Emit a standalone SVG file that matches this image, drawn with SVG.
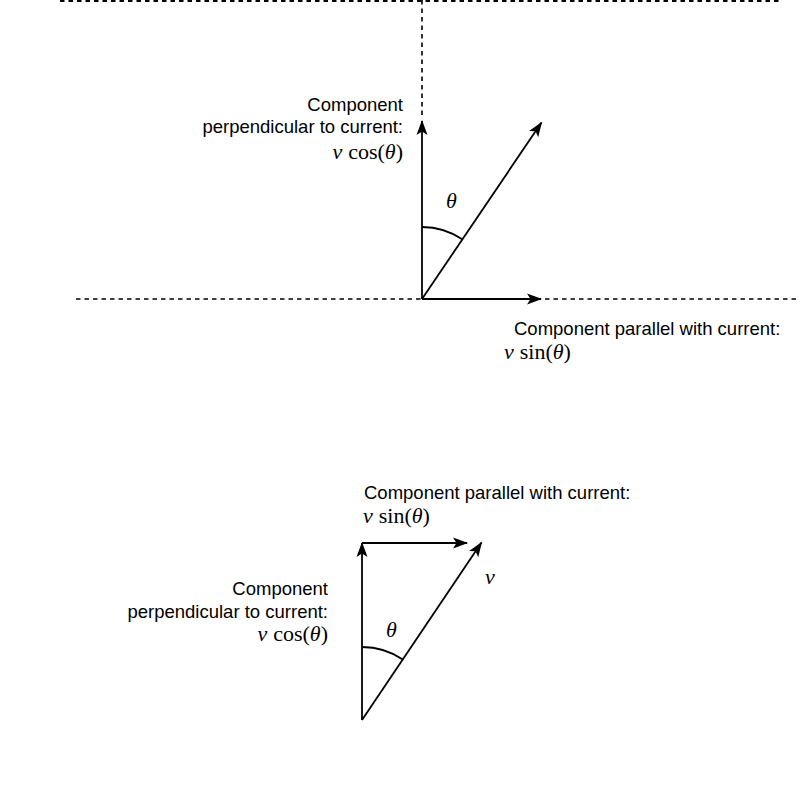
<svg xmlns="http://www.w3.org/2000/svg" width="800" height="798" viewBox="0 0 800 798">
<style>
.t{font-family:"Liberation Sans",Arial,sans-serif;font-size:18.5px;fill:#000}
.m{font-family:"Liberation Serif","Times New Roman",serif;font-size:22px;fill:#000}
.i{font-style:italic}
.dash{stroke:#000;stroke-width:1.6;stroke-dasharray:4.5 4;fill:none}
.ln{stroke:#000;stroke-width:1.8;fill:none}
</style>
<defs>
<marker id="arr" markerUnits="userSpaceOnUse" viewBox="0 0 15 12" refX="14" refY="6" markerWidth="15" markerHeight="12" orient="auto">
<path d="M0,0.5 L15,6 L0,11.5 L3.5,6 Z" fill="#000"/>
</marker>
</defs>
<g id="guides">
<line class="dash" x1="60" y1="1" x2="780" y2="1" style="stroke-width:2.2"/>
<line class="dash" x1="422" y1="0" x2="422" y2="118"/>
<line class="dash" x1="76" y1="299" x2="422" y2="299"/>
<line class="dash" x1="545" y1="299" x2="796" y2="299"/>
</g>
<g id="connectors">
<line class="ln" x1="422" y1="299" x2="422" y2="121" marker-end="url(#arr)"/>
<line class="ln" x1="422" y1="299" x2="541" y2="299" marker-end="url(#arr)"/>
<line class="ln" x1="422" y1="299" x2="541.5" y2="122.5" marker-end="url(#arr)"/>
<path class="ln" d="M422,227 A72,72 0 0 1 462.7,239.6"/>
<line class="ln" x1="362" y1="720" x2="362" y2="543" marker-end="url(#arr)"/>
<line class="ln" x1="362" y1="543" x2="467" y2="543" marker-end="url(#arr)"/>
<line class="ln" x1="362" y1="720" x2="481.5" y2="542.5" marker-end="url(#arr)"/>
<path class="ln" d="M362,647 A73,73 0 0 1 402.8,659.5"/>
</g>
<g id="top-perp-label">
<text class="t" x="403" y="111" text-anchor="end">Component</text>
<text class="t" x="403" y="133" text-anchor="end">perpendicular to current:</text>
<text class="m" x="403" y="159" text-anchor="end"><tspan class="i">v</tspan><tspan dx="6">cos(</tspan><tspan class="i">θ</tspan>)</text>
</g>
<g id="top-theta"><text class="m i" x="446" y="208">θ</text></g>
<g id="top-par-label">
<text class="t" x="514" y="335">Component parallel with current:</text>
<text class="m" x="504" y="359"><tspan class="i">v</tspan><tspan dx="6">sin(</tspan><tspan class="i">θ</tspan>)</text>
</g>
<g id="bottom-par-label">
<text class="t" x="364" y="499">Component parallel with current:</text>
<text class="m" x="363" y="523"><tspan class="i">v</tspan><tspan dx="6">sin(</tspan><tspan class="i">θ</tspan>)</text>
</g>
<g id="bottom-perp-label">
<text class="t" x="328" y="595" text-anchor="end">Component</text>
<text class="t" x="328" y="618" text-anchor="end">perpendicular to current:</text>
<text class="m" x="328" y="641" text-anchor="end"><tspan class="i">v</tspan><tspan dx="6">cos(</tspan><tspan class="i">θ</tspan>)</text>
</g>
<g id="bottom-theta"><text class="m i" x="386" y="637">θ</text></g>
<g id="bottom-v"><text class="m i" x="485" y="584">v</text></g>
</svg>
